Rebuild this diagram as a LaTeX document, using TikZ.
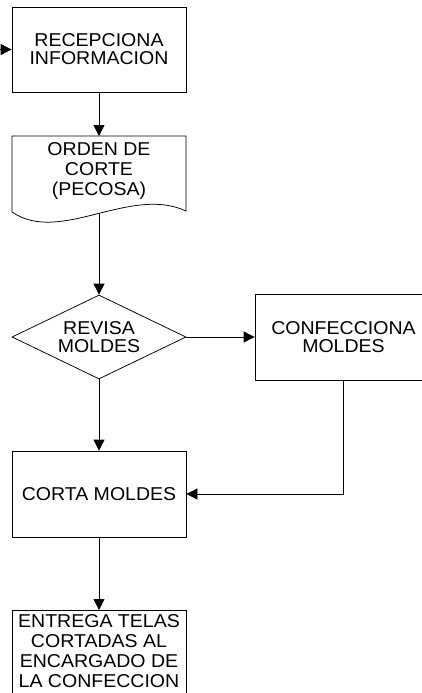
\documentclass[tikz,border=0pt]{standalone}
\usepackage{fontspec}
\setmainfont{Liberation Sans}[FakeStretch=1.05]
\usepackage{tikz}
\usetikzlibrary{arrows.meta,shapes.geometric}

\begin{document}
\begin{tikzpicture}[x=1pt,y=-1pt,
	linea/.style={line width=0.75pt},
	caja/.style={draw, linea, minimum width=174pt, inner sep=0pt},
	texto/.style={align=center, inner sep=0pt, font=\fontsize{18.6}{18}\selectfont},
	flecha/.style={linea, -{Triangle[length=11pt,width=11pt]}}]
\useasboundingbox (0,0) rectangle (421,693);

% cajas del proceso
\node[caja, texto, minimum height=85pt] (recep) at (99,49.5) {RECEPCIONA\\INFORMACION};
\node[draw, linea, diamond, aspect=2, minimum width=174pt, minimum height=84pt, texto] (revisa) at (99,337) {REVISA\\MOLDES};
\node[caja, texto, minimum width=177pt, minimum height=86pt] (confec) at (343.5,337) {CONFECCIONA\\MOLDES};
\node[caja, texto, minimum height=86pt] (corta) at (99,494) {CORTA MOLDES};
\node[caja, minimum height=100pt, anchor=north] (entrega) at (99,610) {};
\node[texto, font=\fontsize{18.6}{20}\selectfont] (entrega texto) at (99,651) {ENTREGA TELAS\\CORTADAS AL\\ENCARGADO DE\\LA CONFECCION};

% documento (orden de corte)
\draw[linea] (12,212) -- (12,136) -- (186,136) -- (186,211) .. controls (130,185) and (60,245) .. (12,212) -- cycle; % borde ondulado
\node[texto, font=\fontsize{18.6}{20}\selectfont] (orden) at (99,171) {ORDEN DE\\CORTE\\(PECOSA)};
\coordinate (orden top) at (99,136);
\coordinate (orden base) at (99,214);
\coordinate (entrada) at (-20,49.5);

% conectores
\draw[flecha] (entrada) -- (recep.west);
\draw[flecha] (recep.south) -- (orden top);
\draw[flecha] (orden base) -- (revisa.north);
\draw[flecha] (revisa.east) -- (confec.west);
\draw[flecha] (revisa.south) -- (corta.north);
\draw[flecha] (confec.south) |- (corta.east);
\draw[flecha] (corta.south) -- (entrega.north);
\end{tikzpicture}
\end{document}
